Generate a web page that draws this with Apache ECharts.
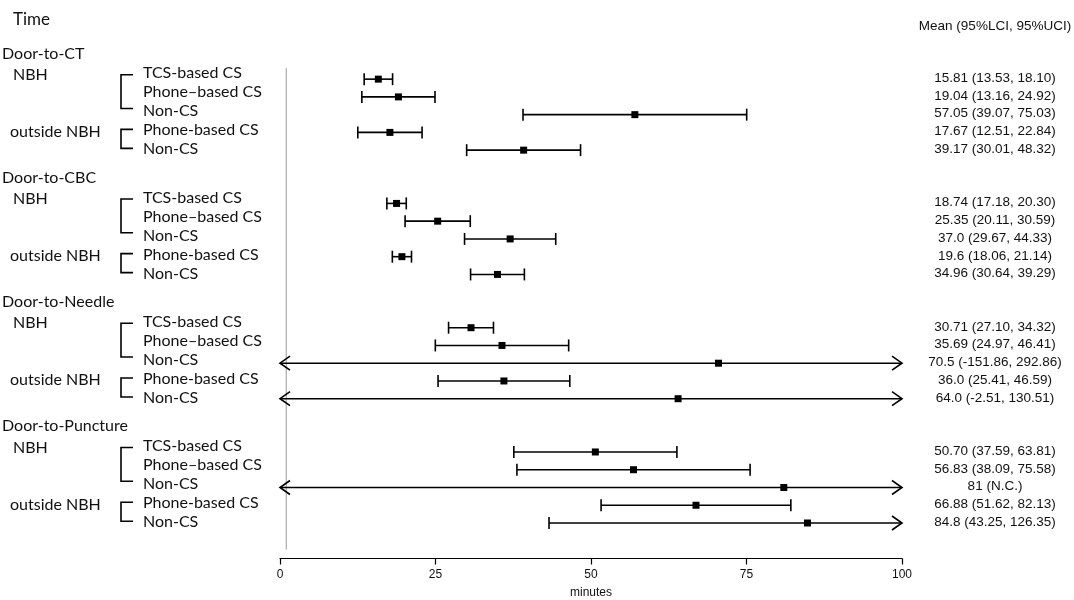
<!DOCTYPE html>
<html>
<head>
<meta charset="utf-8">
<script src="https://cdn.jsdelivr.net/npm/echarts@6/dist/echarts.min.js"></script>
<style>
  html, body { margin: 0; padding: 0; background: #fff; }
  #chart { width: 1074px; height: 600px; }
</style>
</head>
<body>
<div id="chart"></div>
<script>
// 分组
var groups = ['Door-to-CT', 'Door-to-CBC', 'Door-to-Needle', 'Door-to-Puncture'];
var subLabels = ['TCS-based CS', 'Phone\u2013based CS', 'Non-CS', 'Phone-based CS', 'Non-CS'];
var xTicks = [0, 25, 50, 75, 100];

// 均值与95%置信区间（null = N.C.）
var means = [
  [15.81, 19.04, 57.05, 17.67, 39.17],
  [18.74, 25.35, 37.0, 19.6, 34.96],
  [30.71, 35.69, 70.5, 36.0, 64.0],
  [50.70, 56.83, 81, 66.88, 84.8]
];
var lower = [
  [13.53, 13.16, 39.07, 12.51, 30.01],
  [17.18, 20.11, 29.67, 18.06, 30.64],
  [27.10, 24.97, -151.86, 25.41, -2.51],
  [37.59, 38.09, null, 51.62, 43.25]
];
var upper = [
  [18.10, 24.92, 75.03, 22.84, 48.32],
  [20.30, 30.59, 44.33, 21.14, 39.29],
  [34.32, 46.41, 292.86, 46.59, 130.51],
  [63.81, 75.58, null, 82.13, 126.35]
];
// 右侧文本
var ciText = [
  ['15.81 (13.53, 18.10)', '19.04 (13.16, 24.92)', '57.05 (39.07, 75.03)', '17.67 (12.51, 22.84)', '39.17 (30.01, 48.32)'],
  ['18.74 (17.18, 20.30)', '25.35 (20.11, 30.59)', '37.0 (29.67, 44.33)', '19.6 (18.06, 21.14)', '34.96 (30.64, 39.29)'],
  ['30.71 (27.10, 34.32)', '35.69 (24.97, 46.41)', '70.5 (-151.86, 292.86)', '36.0 (25.41, 46.59)', '64.0 (-2.51, 130.51)'],
  ['50.70 (37.59, 63.81)', '56.83 (38.09, 75.58)', '81 (N.C.)', '66.88 (51.62, 82.13)', '84.8 (43.25, 126.35)']
];

var BLOCK = 7;
var XMIN = xTicks[0], XMAX = xTicks[xTicks.length - 1];

// 构建森林图数据
var ciData = [];
groups.forEach(function (g, b) {
  means[b].forEach(function (m, r) {
    var lo = lower[b][r] == null ? -1e9 : lower[b][r];
    var hi = upper[b][r] == null ? 1e9 : upper[b][r];
    ciData.push([m, lo, hi, b * BLOCK + r]);
  });
});

// 文本
var leftFont = 'Lato';
var rightFont = 'Liberation Sans';
var textItems = [];
textItems.push({ t: 'Time', x: 13, y: -3.38, size: 17, font: leftFont });
textItems.push({ t: 'Mean (95%LCI, 95%UCI)', x: 995, y: -2.95, size: 13.5, font: rightFont, align: 'center' });
groups.forEach(function (g, b) {
  var base = b * BLOCK;
  textItems.push({ t: g, x: 2, y: base - 1.45, size: 16, font: leftFont });
  textItems.push({ t: 'NBH', x: 13, y: base - 0.25, size: 16, font: leftFont });
  textItems.push({ t: 'outside NBH', x: 10, y: base + 2.95, size: 16, font: leftFont });
  subLabels.forEach(function (s, r) {
    textItems.push({ t: s, x: 143, y: base + r * 1.07 - 0.33, size: 16, font: leftFont });
  });
  ciText[b].forEach(function (s, r) {
    textItems.push({ t: s, x: 995, y: base + r - 0.05, size: 13.5, font: rightFont, align: 'center' });
  });
});

var chart = echarts.init(document.getElementById('chart'));

function renderCI(params, api) {
  var m = api.value(0), lo = api.value(1), hi = api.value(2), row = api.value(3);
  var pL = api.coord([Math.max(lo, XMIN), row]);
  var pR = api.coord([Math.min(hi, XMAX), row]);
  var pM = api.coord([m, row]);
  var y = pM[1];
  var st = { stroke: '#000', lineWidth: 1.6, fill: null };
  var children = [
    { type: 'line', shape: { x1: pL[0], y1: y, x2: pR[0], y2: y }, style: st }
  ];
  if (lo < XMIN) {
    children.push({ type: 'polyline', shape: { points: [[pL[0] + 10, y - 7], [pL[0], y], [pL[0] + 10, y + 7]] }, style: st });
  } else {
    children.push({ type: 'line', shape: { x1: pL[0], y1: y - 6, x2: pL[0], y2: y + 6 }, style: st });
  }
  if (hi > XMAX) {
    children.push({ type: 'polyline', shape: { points: [[pR[0] - 10, y - 7], [pR[0], y], [pR[0] - 10, y + 7]] }, style: st });
  } else {
    children.push({ type: 'line', shape: { x1: pR[0], y1: y - 6, x2: pR[0], y2: y + 6 }, style: st });
  }
  children.push({ type: 'rect', shape: { x: pM[0] - 3.5, y: y - 3.5, width: 7, height: 7 }, style: { fill: '#000' } });
  return { type: 'group', children: children };
}

function renderText(params, api) {
  var it = textItems[params.dataIndex];
  var y = api.coord([0, it.y])[1];
  return {
    type: 'text',
    style: {
      x: it.x, y: y, text: it.t,
      fill: '#111',
      font: it.size + 'px "' + it.font + '"',
      textAlign: it.align || 'left',
      textVerticalAlign: 'middle'
    }
  };
}

// 括号和参考线
function renderFrame(params, api) {
  var children = [];
  var st = { stroke: '#000', lineWidth: 1.6, fill: null };
  groups.forEach(function (g, b) {
    var base = b * BLOCK;
    [[base - 0.25, base + 1.65], [base + 2.83, base + 3.9]].forEach(function (span) {
      var y1 = api.coord([0, span[0]])[1], y2 = api.coord([0, span[1]])[1];
      children.push({ type: 'polyline', shape: { points: [[133, y1], [121, y1], [121, y2], [133, y2]] }, style: st });
    });
  });
  var t = api.coord([1, -0.62]), bt = api.coord([1, 26.5]);
  children.push({ type: 'line', shape: { x1: t[0], y1: t[1], x2: bt[0], y2: bt[1] }, style: { stroke: '#999', lineWidth: 1 } });
  return { type: 'group', children: children };
}

var option = {
  animation: false,
  grid: { left: 280, right: 172, top: 17, bottom: 41.5, outerBoundsMode: 'none', containLabel: false },
  xAxis: {
    type: 'value',
    position: 'bottom',
    min: XMIN, max: XMAX, interval: 25,
    name: 'minutes',
    nameLocation: 'middle',
    nameGap: 28,
    nameTextStyle: { fontFamily: rightFont, fontSize: 12, color: '#111' },
    axisLine: { show: true, onZero: false, lineStyle: { color: '#000', width: 1.2 } },
    axisTick: { show: true, length: 6, lineStyle: { color: '#000', width: 1.2 } },
    axisLabel: { margin: 10, fontFamily: rightFont, fontSize: 12, color: '#111' },
    splitLine: { show: false }
  },
  yAxis: {
    type: 'value', min: -3.5, max: 27, inverse: true, show: false
  },
  series: [
    { type: 'custom', renderItem: renderFrame, data: [0], clip: false, silent: true },
    { type: 'custom', renderItem: renderCI, data: ciData, encode: { x: [0, 1, 2], y: 3 }, clip: false },
    { type: 'custom', renderItem: renderText, data: textItems.map(function (d, i) { return i; }), clip: false, silent: true }
  ]
};

chart.setOption(option);
</script>
</body>
</html>
